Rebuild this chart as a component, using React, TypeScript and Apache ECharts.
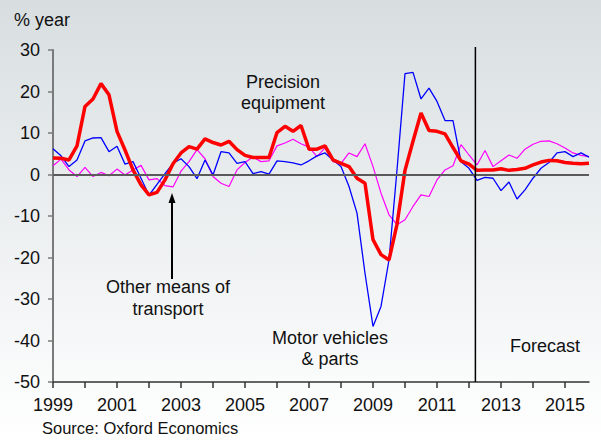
import React, { useEffect, useRef } from "react";
import * as echarts from "echarts";

// Quarterly data, 1999 Q1 .. 2015 Q4, % year
const startYear = 1999;
const totalValues = [
  4.0, 3.9, 3.5, 6.9, 16.4, 18.2, 21.9, 19.2, 10.4, 5.9, 1.1, -2.5, -4.9, -4.3, -1.3, 2.6,
  5.2, 6.7, 6.1, 8.6, 7.7, 7.1, 8.0, 6.0, 4.6, 4.1, 4.1, 4.1, 10.1, 11.6, 10.4, 11.8,
  6.1, 6.1, 6.9, 3.5, 2.7, 1.9, -0.9, -2.1, -15.7, -19.3, -20.6, -12.0, 1.0, 8.0, 14.8, 10.6,
  10.4, 9.8, 6.5, 3.3, 2.5, 1.0, 1.1, 1.1, 1.4, 1.0, 1.2, 1.5, 2.3, 3.0, 3.4, 3.3,
  2.9, 2.7, 2.6, 2.7,
];
const motorValues = [
  6.2, 4.5, 1.9, 3.5, 8.1, 8.8, 8.9, 5.5, 6.8, 2.5, 3.1, -0.9, -5.0, -2.4, 0.2, 2.7,
  3.8, 1.9, -1.0, 3.5, -0.1, 5.5, 5.2, 2.7, 3.1, 0.2, 0.7, 0.1, 3.3, 3.1, 2.8, 2.3,
  3.3, 4.5, 5.2, 3.5, 1.9, -2.9, -9.3, -23.8, -36.6, -31.8, -20.6, 1.1, 24.3, 24.6, 18.2, 20.8,
  17.6, 13.0, 13.0, 3.1, 1.5, -1.4, -0.7, -0.9, -3.9, -1.8, -5.9, -3.7, -0.9, 1.5, 2.9, 5.2,
  5.5, 4.3, 5.2, 4.2,
];
const otherValues = [
  2.1, 3.7, 1.1, -0.5, 1.7, -0.5, 0.5, -0.3, 1.3, -0.1, 1.1, 2.2, -1.3, -1.0, -2.7, -3.0,
  0.8, 3.1, 6.0, 3.8, -0.5, -2.1, -2.9, 1.1, 2.9, 4.2, 3.1, 3.3, 6.9, 7.6, 8.5, 7.4,
  6.6, 4.3, 6.4, 3.1, 2.7, 5.2, 4.3, 7.4, 1.9, -4.5, -9.7, -12.1, -10.9, -7.7, -4.9, -5.3,
  -1.3, 1.1, 2.1, 7.2, 4.7, 2.3, 5.8, 1.9, 3.3, 4.7, 3.9, 6.1, 7.3, 8.0, 8.1, 7.4,
  6.4, 5.2, 4.6, 4.3,
];
const tickYears = [1999, 2000, 2001, 2002, 2003, 2004, 2005, 2006, 2007, 2008, 2009, 2010, 2011, 2012, 2013, 2014, 2015];
const labelYears = [1999, 2001, 2003, 2005, 2007, 2009, 2011, 2013, 2015];
const xMin = 1999;
const xMax = 2015.75;
const yMin = -50;
const yMax = 30;
const yInterval = 10;
const forecastStart = 2012.2;

const FONT = "'Liberation Sans', Arial, sans-serif";

const toPairs = (vals: number[]) => vals.map((v, i) => [startYear + i / 4, v]);

export default function App() {
  const ref = useRef<HTMLDivElement>(null);
  useEffect(() => {
    if (!ref.current) return;
    const chart = echarts.init(ref.current, null, { renderer: "svg" });
    const textStyle = (t: string, x: number, y: number, size = 18, align = "center") => ({
      type: "text",
      x,
      y,
      style: { text: t, fontSize: size, fontFamily: FONT, fill: "#111", align, verticalAlign: "middle" },
      z: 10,
    });
    const graphics: any[] = [
      textStyle("% year", 14, 20, 18, "left"),
      textStyle("Precision", 283, 82),
      textStyle("equipment", 283, 103),
      textStyle("Other means of", 168, 287),
      textStyle("transport", 168, 309),
      textStyle("Motor vehicles", 330, 338),
      textStyle("& parts", 330, 359),
      textStyle("Forecast", 545, 346),
      textStyle("Source: Oxford Economics", 42, 428, 16.5, "left"),
      {
        type: "line",
        shape: { x1: 172, y1: 279, x2: 172, y2: 200 },
        style: { stroke: "#000", lineWidth: 2 },
        z: 10,
      },
      {
        type: "polygon",
        shape: { points: [[172, 193], [168.5, 203], [175.5, 203]] },
        style: { fill: "#000" },
        z: 10,
      },
    ];
    chart.setOption({
      animation: false,
      backgroundColor: new echarts.graphic.LinearGradient(0, 0, 0, 1, [
        { offset: 0, color: "#d8dee0" },
        { offset: 0.55, color: "#eef1f2" },
        { offset: 1, color: "#ffffff" },
      ]),
      textStyle: { fontFamily: FONT },
      grid: { left: 53, right: 12, top: 50, bottom: 59, containLabel: false, outerBoundsMode: "none" },
      xAxis: {
        type: "value",
        min: xMin,
        max: xMax,
        axisLine: { show: true, onZero: false, lineStyle: { color: "#333", width: 1.5 } },
        axisTick: { show: true, customValues: tickYears, length: 6, lineStyle: { color: "#333", width: 1.5 } },
        axisLabel: { customValues: labelYears, color: "#111", fontSize: 18, margin: 14, formatter: (v: number) => String(v) },
        splitLine: { show: false },
      },
      yAxis: {
        type: "value",
        min: yMin,
        max: yMax,
        interval: yInterval,
        axisLine: { show: true, lineStyle: { color: "#7a7a7a", width: 2 } },
        axisTick: { show: true, length: 5, lineStyle: { color: "#7a7a7a", width: 1.5 } },
        axisLabel: { color: "#111", fontSize: 18, margin: 13 },
        splitLine: { show: false },
      },
      series: [
        {
          type: "line",
          data: [],
          z: 1,
          markLine: {
            silent: true,
            symbol: ["none", "none"],
            label: { show: false },
            animation: false,
            data: [
              [
                { coord: [xMin, 0], lineStyle: { color: "#5a5a5a", width: 2, type: "solid" } },
                { coord: [xMax, 0] },
              ],
            ],
          },
        },
        {
          name: "Other means of transport",
          type: "line",
          data: toPairs(otherValues),
          symbol: "none",
          lineStyle: { color: "#ff00ff", width: 1.2 },
          z: 2,
        },
        {
          name: "Motor vehicles & parts",
          type: "line",
          data: toPairs(motorValues),
          symbol: "none",
          lineStyle: { color: "#0000ff", width: 1.3 },
          z: 3,
        },
        {
          name: "Precision equipment",
          type: "line",
          data: toPairs(totalValues),
          symbol: "none",
          lineStyle: { color: "#ff0000", width: 3.5 },
          z: 4,
        },
      ],
      graphic: graphics,
    });
    // Forecast divider, positioned through the axes' scales
    const bottom = chart.convertToPixel({ gridIndex: 0 }, [forecastStart, yMin]) as number[];
    const top = chart.convertToPixel({ gridIndex: 0 }, [forecastStart, yMax]) as number[];
    if (bottom && top) {
      chart.setOption({
        graphic: [
          ...graphics,
          {
            type: "line",
            shape: { x1: bottom[0], y1: bottom[1], x2: top[0], y2: top[1] - 3 },
            style: { stroke: "#000", lineWidth: 1.5 },
            z: 9,
          },
        ],
      });
    }
    return () => chart.dispose();
  }, []);
  return <div ref={ref} style={{ position: "fixed", left: 0, top: 0, width: 601, height: 441 }} />;
}
